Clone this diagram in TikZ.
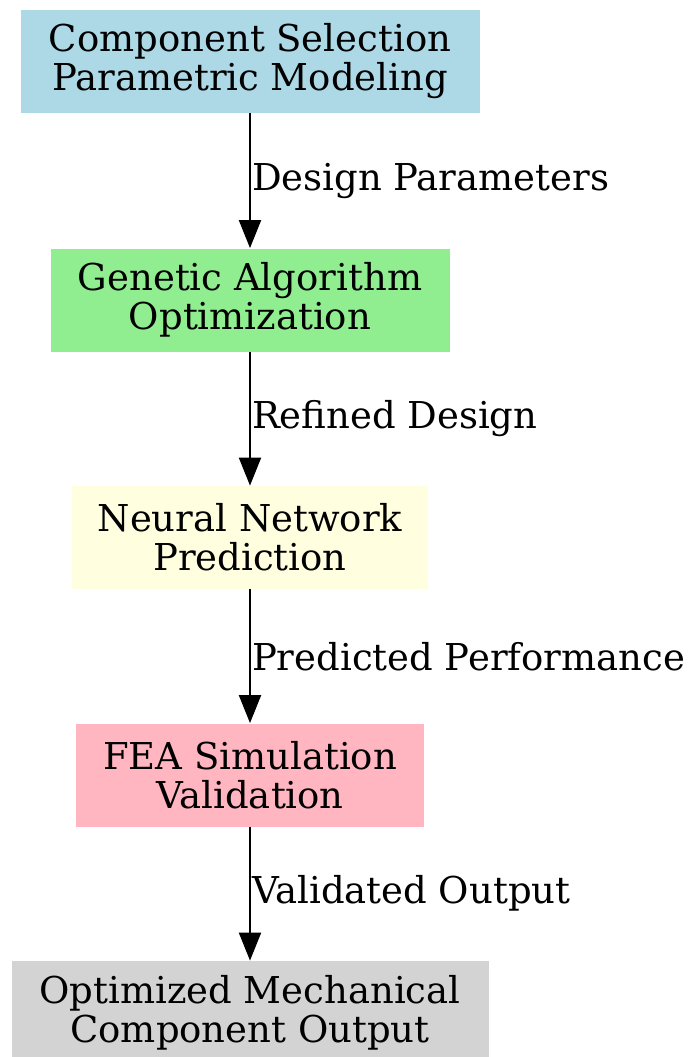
\documentclass[tikz,border=0pt]{standalone}
\usepackage{fontspec}
\setmainfont{DejaVu Serif}
\usepackage{tikz}
\usetikzlibrary{arrows.meta,positioning}
\definecolor{StageBlue}{RGB}{173,216,230}
\definecolor{StageGreen}{RGB}{144,238,144}
\definecolor{StageYellow}{RGB}{255,255,224}
\definecolor{StagePink}{RGB}{255,182,193}
\definecolor{StageGray}{RGB}{211,211,211}

\begin{document}
\begin{tikzpicture}[x=0.5pt, y=-0.5pt,
    stagebox/.style={draw=none, inner sep=0pt, minimum height=51.5pt, align=center,
      font=\fontsize{18.5}{19.5}\selectfont},
    flow/.style={-{Triangle[length=14pt,width=11pt]}, line width=1pt},
    flowlabel/.style={right, inner sep=0.5pt, font=\fontsize{18.5}{19.5}\selectfont}]
  \useasboundingbox (0,0) rectangle (691,1057);

  % Stages
  \node[stagebox, fill=StageBlue, minimum width=229.5pt] (select) at (250,61.5) {Component Selection\\Parametric Modeling};
  \node[stagebox, fill=StageGreen, minimum width=199.5pt] (genetic) at (250,300) {Genetic Algorithm\\Optimization};
  \node[stagebox, fill=StageYellow, minimum width=178pt] (neural) at (250,537.5) {Neural Network\\Prediction};
  \node[stagebox, fill=StagePink, minimum width=174pt] (fea) at (250,775) {FEA Simulation\\Validation};
  \node[stagebox, fill=StageGray, minimum width=238.5pt] (output) at (250,1012.5) {Optimized Mechanical\\Component Output};

  % Flow between stages
  \draw[flow] (select) -- node[flowlabel]{Design Parameters} (genetic);
  \draw[flow] (genetic) -- node[flowlabel]{Refined Design} (neural);
  \draw[flow] (neural) -- node[flowlabel]{Predicted Performance} (fea);
  \draw[flow] (fea) -- node[flowlabel]{Validated Output} (output);
\end{tikzpicture}
\end{document}
